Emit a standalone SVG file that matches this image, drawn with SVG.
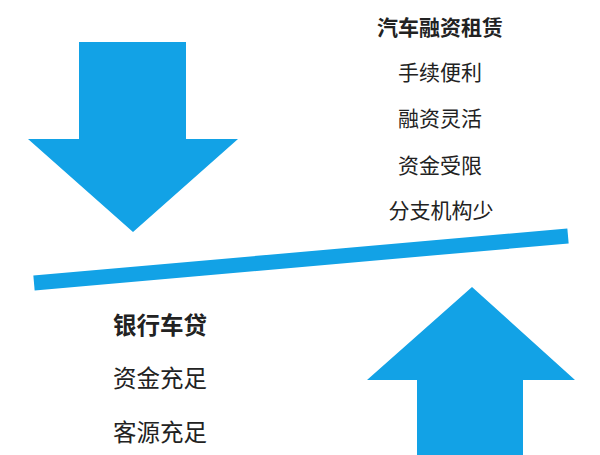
<svg xmlns="http://www.w3.org/2000/svg" width="600" height="455" viewBox="0 0 600 455">
<style>
.arrow{fill:#12a2e6}
.t{font-family:"Noto Sans CJK SC","Noto Sans",sans-serif;fill:#222}
.top{font-size:21px;text-anchor:middle}
.bot{font-size:23.5px}
.b{font-weight:bold}
</style>
<rect width="600" height="455" fill="#fff"/>
<g id="arrow-down"><polygon class="arrow" points="79,42 186,42 186,139 238,139 133,232 28,139 79,139"/></g>
<g id="arrow-up"><polygon class="arrow" points="472,287 575,380 523,380 523,455 417,455 417,380 367,380"/></g>
<g id="connectors"><line x1="34" y1="283" x2="568" y2="236" stroke="#12a2e6" stroke-width="15"/></g>
<g id="leasing">
<text class="t top b" x="440" y="35">汽车融资租赁</text>
<text class="t top" x="440" y="80">手续便利</text>
<text class="t top" x="440" y="126">融资灵活</text>
<text class="t top" x="440" y="173">资金受限</text>
<text class="t top" x="441" y="218">分支机构少</text>
</g>
<g id="bank">
<text class="t bot b" x="113" y="334">银行车贷</text>
<text class="t bot" x="113" y="387">资金充足</text>
<text class="t bot" x="113" y="441">客源充足</text>
</g>
</svg>
